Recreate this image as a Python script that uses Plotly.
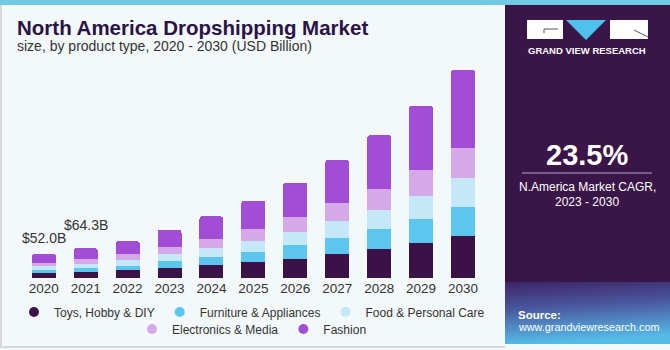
import base64
import plotly.graph_objects as go

years = ["2020", "2021", "2022", "2023", "2024", "2025", "2026", "2027", "2028", "2029", "2030"]
toys = [10.0, 12.9, 16.3, 21.5, 27.1, 33.8, 40.9, 51.6, 61.7, 75.3, 90.9]
furniture = [8.0, 8.6, 10.1, 14.2, 18.7, 22.8, 29.5, 35.0, 43.0, 51.0, 62.4]
food = [7.2, 8.6, 12.9, 15.9, 17.8, 23.7, 28.6, 35.9, 41.5, 50.7, 61.1]
electronics = [8.0, 11.4, 11.4, 15.0, 20.9, 25.2, 32.3, 38.1, 45.8, 55.3, 65.8]
fashion = [18.8, 22.8, 28.8, 37.2, 48.0, 60.8, 73.7, 93.1, 114.8, 138.2, 167.1]
series_names = ["Toys, Hobby & DIY", "Furniture & Appliances", "Food & Personal Care",
                "Electronics & Media", "Fashion"]
value_labels = {"2020": "$52.0B", "2021": "$64.3B"}

colors = ["#3a1248", "#5cc6ee", "#c4e8f7", "#d5a8ea", "#a14dd6"]
series = [toys, furniture, food, electronics, fashion]

W, H = 670, 350
BG = "#f3f9fb"
PANEL = "#3a1547"
TXT = "#333333"
FONT = "Liberation Sans"

fig = go.Figure()
for name, vals, col in zip(series_names, series, colors):
    fig.add_trace(go.Bar(x=years, y=vals, name=name, marker=dict(color=col, line=dict(width=0)),
                         showlegend=False, hoverinfo="x+y+name"))

# legend proxies (circle symbols) on a hidden axis pair
for i, (name, col) in enumerate(zip(series_names, colors)):
    fig.add_trace(go.Scatter(x=[None], y=[None], mode="markers", name=name,
                             marker=dict(color=col, size=10, symbol="circle"),
                             xaxis="x2", yaxis="y2",
                             legend="legend" if i < 3 else "legend2"))

totals = [sum(v) for v in zip(*series)]
shifts = {"2020": 6, "2021": 13}
for y, lab in value_labels.items():
    i = years.index(y)
    fig.add_annotation(x=i, y=totals[i], xref="x", yref="y", text=lab, showarrow=False,
                       yanchor="bottom", yshift=shifts[y],
                       font=dict(family=FONT, size=14, color=TXT))

def px(x):
    return x / W

def py(y):
    return 1 - y / H

shapes = []
shapes.append(dict(type="rect", xref="paper", yref="paper", x0=0, x1=1, y0=py(5), y1=1,
                   fillcolor="#72c9e4", line=dict(width=0), layer="below"))
shapes.append(dict(type="line", xref="paper", yref="paper", x0=px(1), x1=px(1), y0=py(347), y1=py(5),
                   line=dict(color="#d5d9dc", width=2)))
shapes.append(dict(type="line", xref="paper", yref="paper", x0=0, x1=px(505), y0=py(347), y1=py(347),
                   line=dict(color="#d5d9dc", width=2)))
shapes.append(dict(type="rect", xref="paper", yref="paper", x0=px(505), x1=1, y0=py(282), y1=py(5),
                   fillcolor=PANEL, line=dict(width=0), layer="below"))
# logo
shapes.append(dict(type="rect", xref="paper", yref="paper", x0=px(527), x1=px(563), y0=py(39), y1=py(20),
                   fillcolor="white", line=dict(width=0)))
shapes.append(dict(type="rect", xref="paper", yref="paper", x0=px(610), x1=px(648), y0=py(39), y1=py(20),
                   fillcolor="white", line=dict(width=0)))
shapes.append(dict(type="path", xref="paper", yref="paper",
                   path=f"M {px(566)} {py(20)} L {px(606)} {py(20)} L {px(586)} {py(40)} Z",
                   fillcolor="#4fc1ec", line=dict(width=0)))
shapes.append(dict(type="line", xref="paper", yref="paper", x0=px(544), x1=px(558), y0=py(29), y1=py(29),
                   line=dict(color="#555", width=1)))
shapes.append(dict(type="line", xref="paper", yref="paper", x0=px(544), x1=px(544), y0=py(29), y1=py(33),
                   line=dict(color="#555", width=1)))
shapes.append(dict(type="line", xref="paper", yref="paper", x0=px(634), x1=px(648), y0=py(30), y1=py(37),
                   line=dict(color="#555", width=1)))
shapes.append(dict(type="line", xref="paper", yref="paper", x0=px(522), x1=px(652), y0=py(173), y1=py(173),
                   line=dict(color="#b9a9c4", width=1)))

svg = ('<svg xmlns="http://www.w3.org/2000/svg" width="165" height="62">'
       '<defs><linearGradient id="g" x1="0" y1="0" x2="0.15" y2="1">'
       '<stop offset="0" stop-color="#3d2468"/><stop offset="0.45" stop-color="#4a5aa0"/>'
       '<stop offset="1" stop-color="#55bce9"/></linearGradient></defs>'
       '<rect width="165" height="62" fill="url(#g)"/></svg>')
src = "data:image/svg+xml;base64," + base64.b64encode(svg.encode()).decode()

fig.add_layout_image(dict(source=src, xref="paper", yref="paper", x=px(505), y=py(282),
                          sizex=px(165), sizey=62 / H, xanchor="left", yanchor="top",
                          sizing="stretch", layer="below"))

anns = [
    dict(x=px(15), y=py(27), text="<b>North America Dropshipping Market</b>", xanchor="left",
         font=dict(family=FONT, size=20.5, color="#2b1345")),
    dict(x=px(15), y=py(46), text="size, by product type, 2020 - 2030 (USD Billion)", xanchor="left",
         font=dict(family=FONT, size=14, color=TXT)),
    dict(x=px(587), y=py(51), text="<b>GRAND VIEW RESEARCH</b>", xanchor="center",
         font=dict(family=FONT, size=9.5, color="white")),
    dict(x=px(587), y=py(155), text="<b>23.5%</b>", xanchor="center",
         font=dict(family=FONT, size=29, color="white")),
    dict(x=px(587), y=py(187), text="N.America Market CAGR,", xanchor="center",
         font=dict(family=FONT, size=12, color="white")),
    dict(x=px(587), y=py(202), text="2023 - 2030", xanchor="center",
         font=dict(family=FONT, size=12, color="white")),
    dict(x=px(516), y=py(315), text="<b>Source:</b>", xanchor="left",
         font=dict(family=FONT, size=11.5, color="white")),
    dict(x=px(516), y=py(327), text="www.grandviewresearch.com", xanchor="left",
         font=dict(family=FONT, size=10.8, color="white")),
]
for a in anns:
    fig.add_annotation(xref="paper", yref="paper", showarrow=False, yanchor="middle", **a)

ymax = 480
scale = 2.15
bottom = 278
top = bottom - ymax / scale

leg_common = dict(orientation="h", xanchor="center", yanchor="middle", traceorder="normal",
                  font=dict(family=FONT, size=12, color=TXT), bgcolor="rgba(0,0,0,0)",
                  itemclick=False, itemdoubleclick=False)

fig.update_layout(
    width=W, height=H,
    margin=dict(l=0, r=0, t=0, b=0, autoexpand=False),
    paper_bgcolor=BG, plot_bgcolor=BG,
    barmode="stack", bargap=0.427, barcornerradius=3,
    font=dict(family=FONT, color=TXT),
    shapes=shapes,
    xaxis=dict(domain=[px(22.75), px(484)], type="category", categoryorder="array",
               categoryarray=years, range=[-0.5, len(years) - 0.5], automargin=False,
               showgrid=False, showline=False, zeroline=False, ticks="",
               tickfont=dict(family=FONT, size=13.5, color=TXT), fixedrange=True),
    yaxis=dict(domain=[py(bottom), py(top)], range=[0, ymax], visible=False, fixedrange=True,
               automargin=False),
    xaxis2=dict(domain=[0, 0.01], visible=False, anchor="y2"),
    yaxis2=dict(domain=[0, 0.01], visible=False, anchor="x2"),
    legend=dict(x=px(252), y=py(312), **leg_common),
    legend2=dict(x=px(252), y=py(329), **leg_common),
    showlegend=True,
)

fig.write_html("out.html", config={"displayModeBar": False})
